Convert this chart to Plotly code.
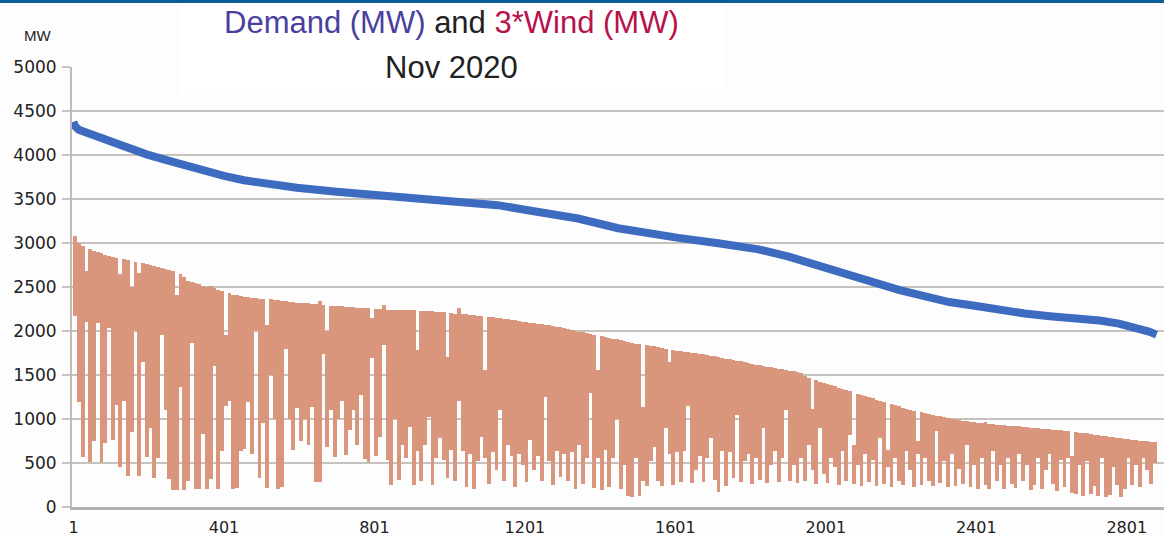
import plotly.graph_objects as go

# ---------------- data ----------------
# Demand duration curve (MW), sorted descending, read at sample ranks
demand_rank = [1, 5, 15, 30, 62, 100, 140, 195, 260, 329, 401, 454, 530, 595, 700, 801, 900, 995,
               1070, 1129, 1201, 1280, 1342, 1449, 1530, 1609, 1715, 1822, 1900, 2001, 2060, 2115,
               2195, 2260, 2329, 2401, 2462, 2530, 2596, 2660, 2729, 2780, 2830, 2860, 2880]
demand_mw = [4380, 4330, 4290, 4265, 4225, 4160, 4100, 4010, 3930, 3845, 3765, 3715, 3665, 3630,
             3585, 3545, 3515, 3490, 3460, 3432, 3380, 3330, 3280, 3170, 3110, 3060, 3000, 2930,
             2850, 2720, 2630, 2550, 2470, 2400, 2330, 2285, 2235, 2200, 2170, 2150, 2120, 2085,
             2040, 1995, 1960]

# 3*Wind (MW), ordered by demand rank, summarised per bin of 10 ranks: max and min
bin_size = 10
wind_hi = [
    3080, 3000, 2965, 2680, 2930, 2915, 2900, 2885, 2870, 2855,
    2840, 2830, 2650, 2815, 2805, 2500, 2790, 2660, 2775, 2765,
    2750, 2740, 2730, 2720, 2705, 2695, 2680, 2410, 2650, 2620,
    2570, 2555, 2545, 2530, 2515, 2500, 2515, 2490, 2470, 2455,
    1960, 2430, 2415, 2405, 2395, 2390, 2385, 2380, 2375, 2370,
    2365, 2075, 2360, 2355, 2350, 2345, 2340, 2335, 2330, 2325,
    2325, 2320, 2315, 2310, 2305, 2345, 2300, 2000, 2290, 2285,
    2285, 2280, 2278, 2275, 2270, 2268, 2265, 2260, 2258, 2150,
    2250, 2248, 2300, 2245, 2243, 2240, 2240, 2238, 2236, 2235,
    2235, 1780, 2232, 2230, 2228, 2225, 2222, 2218, 2215, 1700,
    2205, 2200, 2260, 2195, 2190, 2185, 2180, 2175, 2170, 1560,
    2160, 2155, 2150, 2145, 2140, 2135, 2130, 2122, 2115, 2108,
    2100, 2095, 2090, 2083, 2076, 2070, 2064, 2057, 2050, 2042,
    2035, 2025, 2015, 2005, 1995, 1985, 1975, 1965, 1955, 1560,
    1945, 1935, 1925, 1915, 1905, 1895, 1885, 1875, 1865, 1855,
    1850, 1140, 1842, 1834, 1826, 1818, 1810, 1802, 1650, 1786,
    1778, 1772, 1766, 1760, 1754, 1748, 1742, 1735, 1728, 1720,
    1712, 1704, 1696, 1688, 1680, 1672, 1664, 1655, 1646, 1637,
    1628, 1620, 1612, 1604, 1596, 1588, 1580, 1572, 1564, 1556,
    1550, 1545, 1540, 1520, 1495, 1470, 1120, 1440, 1425, 1412,
    1400, 1386, 1372, 1358, 1344, 1330, 1316, 700, 1288, 1274,
    1260, 1247, 1234, 1221, 1208, 1195, 650, 1170, 1158, 1146,
    1125, 1115, 1105, 1095, 750, 1075, 1065, 1055, 1045, 1037,
    1030, 1022, 1014, 1006, 998, 990, 983, 976, 969, 962,
    958, 954, 965, 946, 942, 938, 934, 930, 926, 922,
    920, 916, 912, 908, 904, 900, 896, 892, 888, 884,
    880, 876, 871, 866, 861, 580, 851, 846, 841, 836,
    830, 824, 818, 812, 806, 800, 794, 788, 782, 776,
    770, 765, 760, 755, 750, 745, 740, 735,
]
wind_lo = [
    2170, 1190, 565, 2100, 510, 750, 2090, 510, 730, 2030,
    760, 1160, 455, 1210, 355, 850, 2000, 355, 1650, 570,
    900, 330, 560, 1960, 1100, 320, 190, 190, 1370, 190,
    300, 1860, 210, 200, 830, 200, 320, 1600, 200, 640,
    1150, 1210, 210, 220, 640, 660, 1190, 600, 2000, 330,
    960, 220, 1500, 1000, 210, 230, 1800, 1000, 650, 1130,
    750, 1000, 700, 1140, 280, 280, 1740, 680, 1100, 570,
    1000, 1200, 590, 880, 1100, 700, 1270, 550, 510, 1690,
    580, 800, 1840, 530, 250, 1000, 310, 700, 560, 910,
    250, 640, 300, 700, 1020, 250, 560, 780, 540, 330,
    650, 300, 1200, 640, 230, 600, 210, 520, 800, 560,
    260, 620, 420, 1100, 300, 700, 580, 230, 600, 480,
    280, 760, 420, 580, 300, 1250, 520, 250, 640, 340,
    600, 300, 620, 200, 700, 260, 560, 1300, 220, 560,
    190, 650, 230, 560, 1000, 200, 480, 130, 115, 560,
    130, 300, 240, 520, 680, 300, 240, 900, 600, 250,
    620, 280, 640, 1150, 270, 420, 580, 290, 560, 780,
    310, 170, 640, 240, 620, 330, 1050, 280, 520, 600,
    260, 560, 310, 900, 270, 480, 640, 290, 560, 1100,
    300, 480, 270, 560, 300, 700, 420, 260, 900, 380,
    270, 560, 450, 250, 640, 300, 820, 260, 480, 240,
    600, 280, 530, 240, 780, 260, 450, 230, 560, 300,
    250, 640, 420, 230, 600, 250, 560, 300, 240, 860,
    270, 520, 230, 600, 240, 430, 260, 700, 230, 480,
    200, 560, 250, 210, 640, 300, 480, 200, 560, 260,
    220, 600, 300, 480, 190, 250, 560, 210, 420, 600,
    260, 180, 540, 230, 560, 160, 150, 480, 130, 520,
    150, 240, 120, 560, 115, 140, 450, 250, 110, 200,
    560, 250, 480, 230, 560, 420, 260, 500,
]

x_tickvals = [1, 401, 801, 1201, 1601, 2001, 2401, 2801]
y_tickvals = [0, 500, 1000, 1500, 2000, 2500, 3000, 3500, 4000, 4500, 5000]

# ---------------- figure ----------------
bin_x = [bin_size * k + (bin_size + 1) / 2 for k in range(len(wind_hi))]
bar_len = [h - l for h, l in zip(wind_hi, wind_lo)]

WIND_COLOR = "#D9967D"
DEMAND_COLOR = "#3D6BC0"
GRID = "#C6C2BE"

fig = go.Figure()
fig.add_trace(go.Bar(
    x=bin_x, y=bar_len, base=wind_lo, width=bin_size,
    marker=dict(color=WIND_COLOR, line=dict(width=0)),
    showlegend=False, hoverinfo="skip",
))
fig.add_trace(go.Scatter(
    x=demand_rank, y=demand_mw, mode="lines",
    line=dict(color=DEMAND_COLOR, width=8),
    showlegend=False, hoverinfo="skip",
))

L, T, B = 72, 67, 29
W, H = 1164, 536
pw = W - L
ph = H - T - B


def px(xp):
    return (xp - L) / pw


def py(yp):
    return (H - B - yp) / ph


fig.update_layout(
    width=W, height=H,
    margin=dict(l=L, r=0, t=T, b=B, pad=0),
    paper_bgcolor="#FDFDFD", plot_bgcolor="#FDFDFD",
    bargap=0,
    xaxis=dict(
        range=[-3, 2900], tickmode="array", tickvals=x_tickvals,
        ticktext=[str(v) for v in x_tickvals],
        showgrid=False, zeroline=False, showline=True,
        linecolor="#B5B0AC", linewidth=3, ticks="",
        tickfont=dict(family="DejaVu Sans", size=16, color="#222222"),
        ticklabelstandoff=4,
    ),
    yaxis=dict(
        range=[0, 5003], tickmode="array", tickvals=y_tickvals,
        showgrid=True, gridcolor=GRID, gridwidth=2,
        zeroline=False, showline=True, linecolor="#C0BBB7", linewidth=2,
        ticks="outside", ticklen=8, tickcolor=GRID, tickwidth=2,
        tickfont=dict(family="DejaVu Sans", size=17, color="#222222"),
        ticklabelstandoff=2,
    ),
    shapes=[
        dict(type="rect", xref="paper", yref="paper",
             x0=px(180), x1=px(723), y0=py(95), y1=py(3),
             fillcolor="#FFFFFF", line=dict(width=0), layer="above"),
        dict(type="rect", xref="paper", yref="paper",
             x0=px(0), x1=px(W), y0=py(3), y1=py(0),
             fillcolor="#0C5E97", line=dict(width=0), layer="above"),
    ],
    annotations=[
        dict(xref="paper", yref="paper", x=px(451), y=py(23),
             xanchor="center", yanchor="middle", showarrow=False,
             text='<span style="color:#4A3E9E">Demand (MW)</span> and '
                  '<span style="color:#B8124B">3*Wind (MW)</span>',
             font=dict(family="Liberation Sans", size=31, color="#222222")),
        dict(xref="paper", yref="paper", x=px(451), y=py(67),
             xanchor="center", yanchor="middle", showarrow=False,
             text="Nov 2020",
             font=dict(family="Liberation Sans", size=31, color="#222222")),
        dict(xref="paper", yref="paper", x=px(53), y=py(36),
             xanchor="right", yanchor="middle", showarrow=False,
             text="MW",
             font=dict(family="Liberation Sans", size=15, color="#222222")),
    ],
)

fig.write_html(
    "out.html",
    config={"displayModeBar": False},
    post_script="document.body.style.margin='0';document.body.style.overflow='hidden';",
)
